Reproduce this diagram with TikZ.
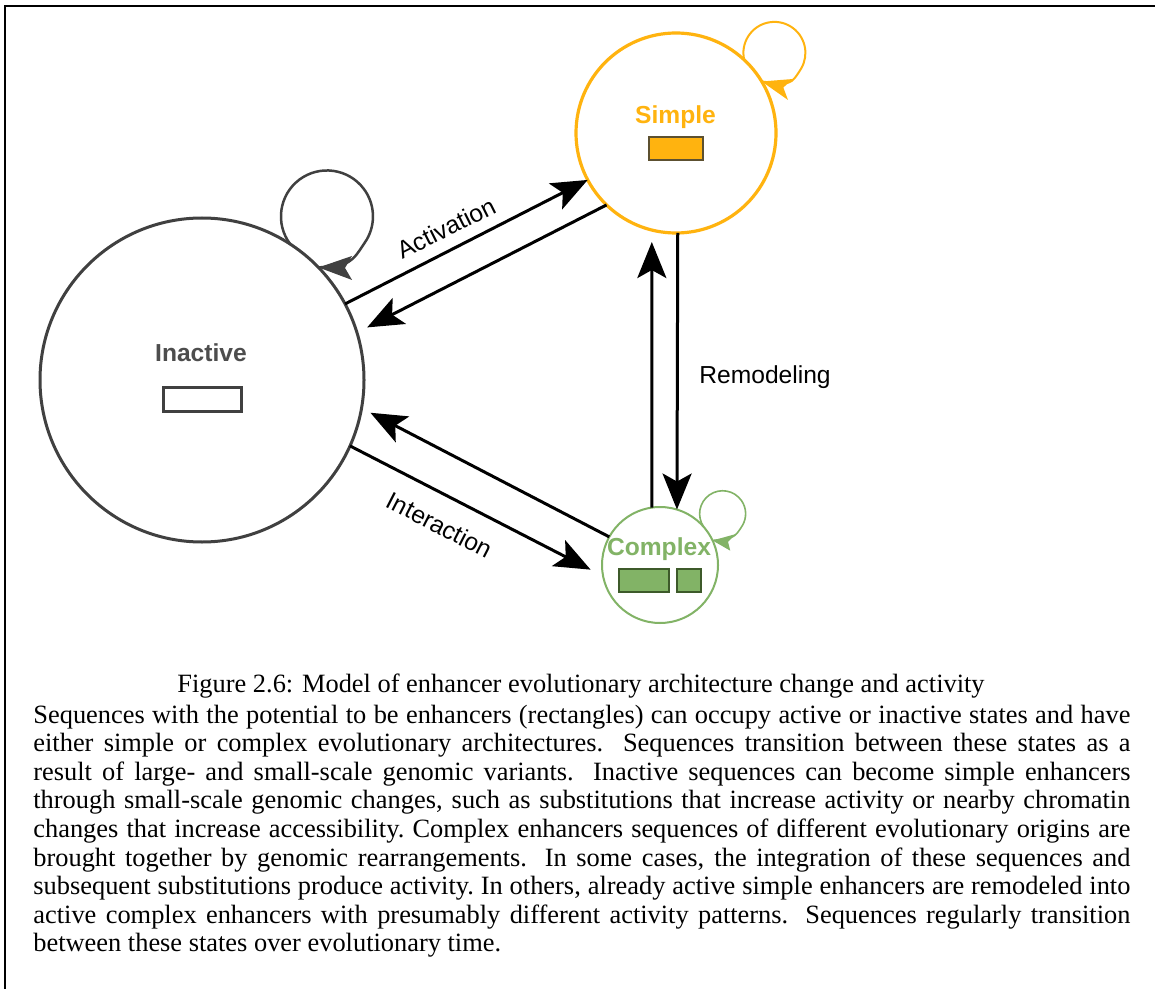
\documentclass[tikz,border=0pt]{standalone}
\usepackage{fontspec}
\setmainfont{Liberation Serif}
\newfontfamily\sansf{Liberation Sans}
\usetikzlibrary{arrows.meta}
\definecolor{inkgray}{HTML}{404040}
\definecolor{txtgray}{HTML}{4D4D4D}
\definecolor{sorange}{HTML}{FFB30F}
\definecolor{orstroke}{HTML}{5C5030}
\definecolor{cgreen}{HTML}{82B366}
\definecolor{gstroke}{HTML}{3D5A2A}
\begin{document}
\begin{tikzpicture}[x=0.5pt,y=0.5pt,
  state/.style={circle, inner sep=0pt, outer sep=0pt},
  lbl/.style={font=\sansf\bfseries\fontsize{12.3}{14}\selectfont, inner sep=0pt, anchor=base},
  elbl/.style={font=\sansf\fontsize{12.3}{14}\selectfont, inner sep=0pt},
  box/.style={rectangle, inner sep=0pt, outer sep=0pt},
  conn/.style={draw=black, line width=1.5pt, -{Stealth[length=18pt,width=14.5pt,inset=4pt]}},
  capl/.style={font=\fontsize{13.2}{14.3}\selectfont, inner sep=0pt, anchor=base west},
]
\useasboundingbox (0,0) rectangle (1155,-989);
\fill[white] (0,0) rectangle (1155,-989);
% frame
\draw[line width=0.6pt] (1155,-6) -- (5,-6) -- (5,-989);

% states
\node[state, draw=inkgray, line width=1.5pt, minimum size=162pt] (inactive) at (202,-380) {};
\node[state, draw=sorange, line width=1.6pt, minimum size=100pt] (simple) at (676,-133) {};
\node[state, draw=cgreen, line width=1pt, minimum size=58pt] (complex) at (660,-565) {};

% state labels
\node[lbl, text=txtgray] (tinact) at (201,-362) {Inactive};
\node[lbl, text=sorange] (tsimple) at (675.5,-124) {Simple};
\node[lbl, text=cgreen] (tcomplex) at (659,-555) {Complex};

% rectangles
\node[box, draw=inkgray, line width=1.5pt, fill=white, minimum width=39pt, minimum height=12pt] (rinact) at (202,-399) {};
\node[box, draw=orstroke, line width=0.6pt, fill=sorange, minimum width=27pt, minimum height=11.5pt] (rsimple) at (676,-148.5) {};
\node[box, draw=gstroke, line width=0.8pt, fill=cgreen, minimum width=25pt, minimum height=11.5pt] (rcompa) at (644,-580.5) {};
\node[box, draw=gstroke, line width=0.8pt, fill=cgreen, minimum width=12pt, minimum height=11.5pt] (rcompb) at (689,-580.5) {};

% connectors
\draw[conn] (inactive.28.3) -- (simple.208.8);
\draw[conn, shorten >=5.75pt] (simple.226) -- (inactive.17.4);
\draw[conn, shorten >=7pt] (inactive.-24.7) -- (complex.191);
\draw[conn, shorten >=5pt] (complex.151.7) -- (inactive.-10.8);
\draw[conn] (simple.-89.5) -- (complex.73);
\draw[conn, shorten >=6pt] (complex.98) -- (simple.256);

% self loops: loop line, then its filled arrowhead at the node border
\draw[draw=inkgray, line width=1.25pt]
  (inactive.57.5) arc[start angle=217, end angle=-30, radius=46] .. controls (350.5,-264.7) .. (inactive.44);
\fill[inkgray] (inactive.44) -- ++(33.5,11.5) -- ++(-7,-12) -- ++(7,-12) -- cycle;
\draw[draw=sorange, line width=1pt]
  (simple.47.4) arc[start angle=193, end angle=-30, radius=31] .. controls (790.7,-85.2) .. (simple.31);
\fill[sorange] (simple.31) -- ++(31.3,2.5) -- ++(-9.7,-8.5) -- ++(4.7,-12.5) -- cycle;
\draw[draw=cgreen, line width=0.8pt]
  (complex.41.5) arc[start angle=215, end angle=-30, radius=23] .. controls (734.6,-537.9) .. (complex.25.7);
\fill[cgreen] (complex.25.7) -- ++(23.4,6.5) -- ++(-7.9,-7.9) -- ++(2.2,-8.8) -- cycle;

% edge labels
\node[elbl, rotate=26.6] (lact) at (446,-228) {Activation};
\node[elbl, rotate=-27.2] (linter) at (440,-525) {Interaction};
\node[elbl, anchor=base west] (lremod) at (699,-383) {Remodeling};

% caption
\node[font=\fontsize{13.2}{14.3}\selectfont, inner sep=0pt, anchor=base] (figcap) at (581,-692) {Figure 2.6: Model of enhancer evolutionary architecture change and activity};
\node[capl] (cl1) at (33,-723) {\makebox[548.5pt][s]{Sequences with the potential to be enhancers (rectangles) can occupy active or inactive states and have}};
\node[capl] (cl2) at (33,-751.6) {\makebox[548.5pt][s]{either simple or complex evolutionary architectures.  Sequences transition between these states as a}};
\node[capl] (cl3) at (33,-780.2) {\makebox[548.5pt][s]{result of large- and small-scale genomic variants.  Inactive sequences can become simple enhancers}};
\node[capl] (cl4) at (33,-808.8) {\makebox[548.5pt][s]{through small-scale genomic changes, such as substitutions that increase activity or nearby chromatin}};
\node[capl] (cl5) at (33,-837.4) {\makebox[548.5pt][s]{changes that increase accessibility.\ Complex enhancers sequences of different evolutionary origins are}};
\node[capl] (cl6) at (33,-866) {\makebox[548.5pt][s]{brought together by genomic rearrangements.  In some cases, the integration of these sequences and}};
\node[capl] (cl7) at (33,-894.6) {\makebox[548.5pt][s]{subsequent substitutions produce activity.\ In others, already active simple enhancers are remodeled into}};
\node[capl] (cl8) at (33,-923.2) {\makebox[548.5pt][s]{active complex enhancers with presumably different activity patterns.  Sequences regularly transition}};
\node[capl] (cl9) at (33,-951.8) {between these states over evolutionary time.};
\end{tikzpicture}
\end{document}
